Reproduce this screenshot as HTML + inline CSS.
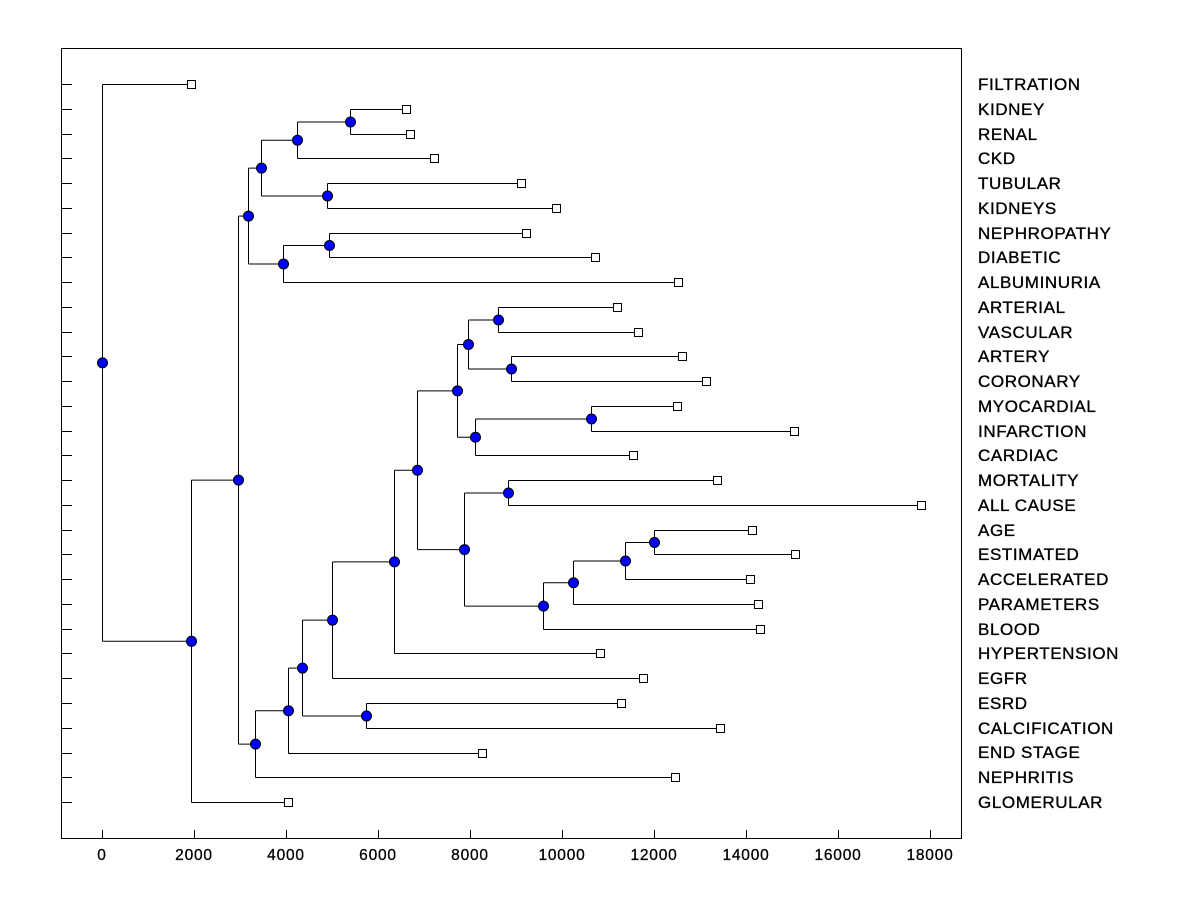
<!DOCTYPE html>
<html><head><meta charset="utf-8"><style>
html,body{margin:0;padding:0;background:#fff;}
svg{display:block;font-family:"Liberation Sans",Arial,sans-serif;}
</style></head><body>
<svg id="s" width="1200" height="900" viewBox="0 0 1200 900" xmlns="http://www.w3.org/2000/svg">
<rect x="0" y="0" width="1200" height="900" fill="#fff"/>
<rect x="61.5" y="48.5" width="900" height="790" fill="none" stroke="#000" stroke-width="1"/>
<g id="lines" stroke="#000" stroke-width="1" fill="none"></g>
<g id="marks"></g>
<g font-size="17" fill="#000" stroke="#000" stroke-width="0.35" letter-spacing="0.6">
<text x="978" y="90">FILTRATION</text>
<text x="978" y="115">KIDNEY</text>
<text x="978" y="140">RENAL</text>
<text x="978" y="164">CKD</text>
<text x="978" y="189">TUBULAR</text>
<text x="978" y="214">KIDNEYS</text>
<text x="978" y="239">NEPHROPATHY</text>
<text x="978" y="263">DIABETIC</text>
<text x="978" y="288">ALBUMINURIA</text>
<text x="978" y="313">ARTERIAL</text>
<text x="978" y="338">VASCULAR</text>
<text x="978" y="362">ARTERY</text>
<text x="978" y="387">CORONARY</text>
<text x="978" y="412">MYOCARDIAL</text>
<text x="978" y="437">INFARCTION</text>
<text x="978" y="461">CARDIAC</text>
<text x="978" y="486">MORTALITY</text>
<text x="978" y="511">ALL CAUSE</text>
<text x="978" y="536">AGE</text>
<text x="978" y="560">ESTIMATED</text>
<text x="978" y="585">ACCELERATED</text>
<text x="978" y="610">PARAMETERS</text>
<text x="978" y="635">BLOOD</text>
<text x="978" y="659">HYPERTENSION</text>
<text x="978" y="684">EGFR</text>
<text x="978" y="709">ESRD</text>
<text x="978" y="734">CALCIFICATION</text>
<text x="978" y="758">END STAGE</text>
<text x="978" y="783">NEPHRITIS</text>
<text x="978" y="808">GLOMERULAR</text>
</g>
<g font-size="15.5" fill="#000" stroke="#000" stroke-width="0.3" letter-spacing="0.8" text-anchor="middle">
<text x="102" y="860">0</text>
<text x="194" y="860">2000</text>
<text x="286" y="860">4000</text>
<text x="378" y="860">6000</text>
<text x="470" y="860">8000</text>
<text x="562" y="860">10000</text>
<text x="654" y="860">12000</text>
<text x="746" y="860">14000</text>
<text x="838" y="860">16000</text>
<text x="930" y="860">18000</text>
</g>
</svg>
<script>
(function(){
var NS="http://www.w3.org/2000/svg";
var L=document.getElementById('lines'),M=document.getElementById('marks');
function el(t,a,p){var e=document.createElementNS(NS,t);for(var k in a)e.setAttribute(k,a[k]);p.appendChild(e);return e;}
function line(x1,y1,x2,y2){el('line',{x1:x1,y1:y1,x2:x2,y2:y2},L);}
var lx=[191,406,410,434,521,556,526,595,678,617,638,682,706,677,794,633,717,921,752,795,750,758,760,600,643,621,720,482,675,288];
var leaves=[];
for(var i=0;i<30;i++){var y=Math.round(84+24.76*i)+0.5;leaves.push({x:lx[i],y:y,leaf:1});
 line(61.5,y,72,y);}
[102,194,286,378,470,562,654,746,838,930].forEach(function(x){line(x+0.5,838,x+0.5,830);});
function N(x,a,b){return {x:x,y:(a.y+b.y)/2,a:a,b:b};}
var l=leaves;
var A=N(350,l[1],l[2]),B=N(297,A,l[3]),C=N(327,l[4],l[5]),D=N(261,B,C),
E=N(329,l[6],l[7]),F=N(283,E,l[8]),G=N(248,D,F),
H=N(498,l[9],l[10]),I=N(511,l[11],l[12]),J=N(468,H,I),
K=N(591,l[13],l[14]),Lq=N(475,K,l[15]),Mq=N(457,J,Lq),
Nn=N(508,l[16],l[17]),O=N(654,l[18],l[19]),P=N(625,O,l[20]),Q=N(573,P,l[21]),R=N(543,Q,l[22]),
S=N(464,Nn,R),T=N(417,Mq,S),U=N(394,T,l[23]),V=N(332,U,l[24]),
W=N(366,l[25],l[26]),X=N(302,V,W),Y=N(288,X,l[27]),Z=N(255,Y,l[28]),
AA=N(238,G,Z),BB=N(191,AA,l[29]),RT=N(102,l[0],BB);
var nodes=[];
function walk(n){if(n.leaf)return;nodes.push(n);
 line(n.x+0.5,n.a.y,n.x+0.5,n.b.y);
 line(n.x+0.5,n.a.y,n.a.x,n.a.y);line(n.x+0.5,n.b.y,n.b.x,n.b.y);
 walk(n.a);walk(n.b);}
walk(RT);
leaves.forEach(function(p){el('rect',{x:p.x-3.5,y:p.y-4,width:8,height:8,fill:'#fff',stroke:'#000','stroke-width':1},M);});
nodes.forEach(function(n){el('circle',{cx:n.x+0.5,cy:n.y,r:5,fill:'#0000ff',stroke:'#000','stroke-width':1},M);});
})();
</script>
</body></html>
